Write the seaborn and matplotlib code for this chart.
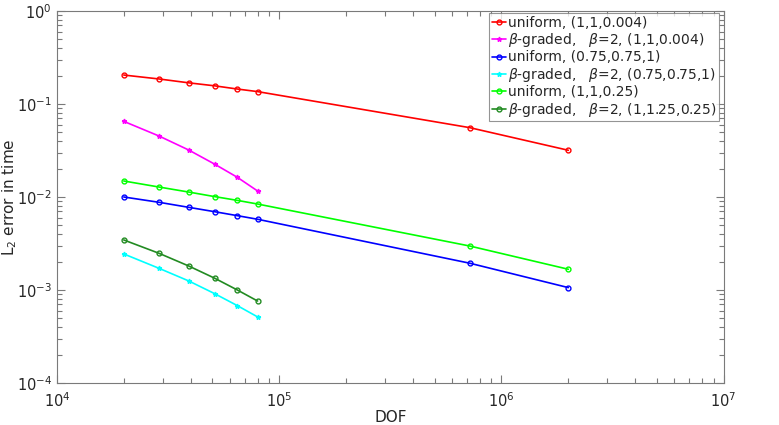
import numpy as np
import pandas as pd
import matplotlib
matplotlib.use('Agg')
import matplotlib.pyplot as plt
import matplotlib.ticker as mticker
import seaborn as sns

# DOF values (coarse meshes and the two fine uniform meshes)
dof_short = [20000, 28800, 39200, 51200, 64800, 80000]
dof_long = [20000, 28800, 39200, 51200, 64800, 80000, 720000, 2000000]

# L2 errors in time
err_unif_1 = [0.205, 0.186, 0.169, 0.157, 0.145, 0.136, 0.0557, 0.0318]
err_grad_1 = [0.0651, 0.0453, 0.032, 0.0226, 0.0163, 0.0116]
err_unif_2 = [0.0100, 0.00877, 0.00774, 0.00695, 0.0063, 0.00576, 0.00194, 0.00106]
err_grad_2 = [0.00244, 0.00171, 0.00125, 0.000914, 0.000679, 0.000513]
err_unif_3 = [0.01486, 0.0128, 0.0113, 0.0101, 0.0092, 0.0084, 0.00297, 0.00167]
err_grad_3 = [0.00345, 0.00248, 0.00181, 0.00134, 0.00100, 0.00076]

labels = [
    'uniform, (1,1,0.004)',
    r'$\beta$-graded,   $\beta$=2, (1,1,0.004)',
    'uniform, (0.75,0.75,1)',
    r'$\beta$-graded,   $\beta$=2, (0.75,0.75,1)',
    'uniform, (1,1,0.25)',
    r'$\beta$-graded,   $\beta$=2, (1,1.25,0.25)',
]

series = [
    (dof_long, err_unif_1, '#ff0000', 'o'),
    (dof_short, err_grad_1, '#ff00ff', '*'),
    (dof_long, err_unif_2, '#0000ff', 'o'),
    (dof_short, err_grad_2, '#00ffff', '*'),
    (dof_long, err_unif_3, '#00ff00', 'o'),
    (dof_short, err_grad_3, '#228b22', 'o'),
]

sns.set_style('ticks')
plt.rcParams['font.family'] = ['DejaVu Sans']
plt.rcParams['mathtext.fontset'] = 'dejavusans'

fig, ax = plt.subplots(figsize=(7.79, 4.25), dpi=100)
fig.subplots_adjust(left=0.073, right=0.929, top=0.974, bottom=0.099)

for (x, y, c, m), lab in zip(series, labels):
    df = pd.DataFrame({'DOF': x, 'err': y})
    sns.lineplot(data=df, x='DOF', y='err', ax=ax, color=c, marker=m,
                 markersize=3.5, markerfacecolor='none' if m == 'o' else c,
                 markeredgecolor=c, markeredgewidth=1.0, linewidth=1.2,
                 label=lab)

ax.set_xscale('log')
ax.set_yscale('log')
ax.set_xlim(1e4, 1e7)
ax.set_ylim(1e-4, 1e0)
ax.xaxis.set_major_locator(mticker.LogLocator(base=10, numticks=10))
ax.yaxis.set_major_locator(mticker.LogLocator(base=10, numticks=10))
ax.xaxis.set_minor_locator(mticker.LogLocator(base=10, subs=np.arange(2, 10), numticks=20))
ax.yaxis.set_minor_locator(mticker.LogLocator(base=10, subs=np.arange(2, 10), numticks=20))
ax.xaxis.set_minor_formatter(mticker.NullFormatter())
ax.yaxis.set_minor_formatter(mticker.NullFormatter())

ax.set_xlabel('DOF', fontsize=11, labelpad=0)
ax.set_ylabel(r'L$_2$ error in time', fontsize=11)
ax.yaxis.set_label_coords(-0.057, 0.5)

for side in ['top', 'right', 'left', 'bottom']:
    ax.spines[side].set_visible(True)
    ax.spines[side].set_color('#7a7a7a')
    ax.spines[side].set_linewidth(0.8)
ax.tick_params(which='both', direction='in', top=True, right=True,
               bottom=True, left=True, color='#7a7a7a', width=0.8,
               labelsize=10.5, labelcolor='#262626')
ax.tick_params(which='major', length=6)
ax.tick_params(which='minor', length=3.5)
ax.tick_params(axis='x', which='major', pad=6)

leg = ax.legend(loc='upper right', bbox_to_anchor=(0.993, 0.995), fontsize=10,
                frameon=True, fancybox=False, handlelength=1.0,
                handletextpad=0.15, borderpad=0.2, labelspacing=0.1,
                borderaxespad=0.0)
leg.get_frame().set_edgecolor('#7a7a7a')
leg.get_frame().set_linewidth(0.8)

fig.savefig('out.png', dpi=100)
